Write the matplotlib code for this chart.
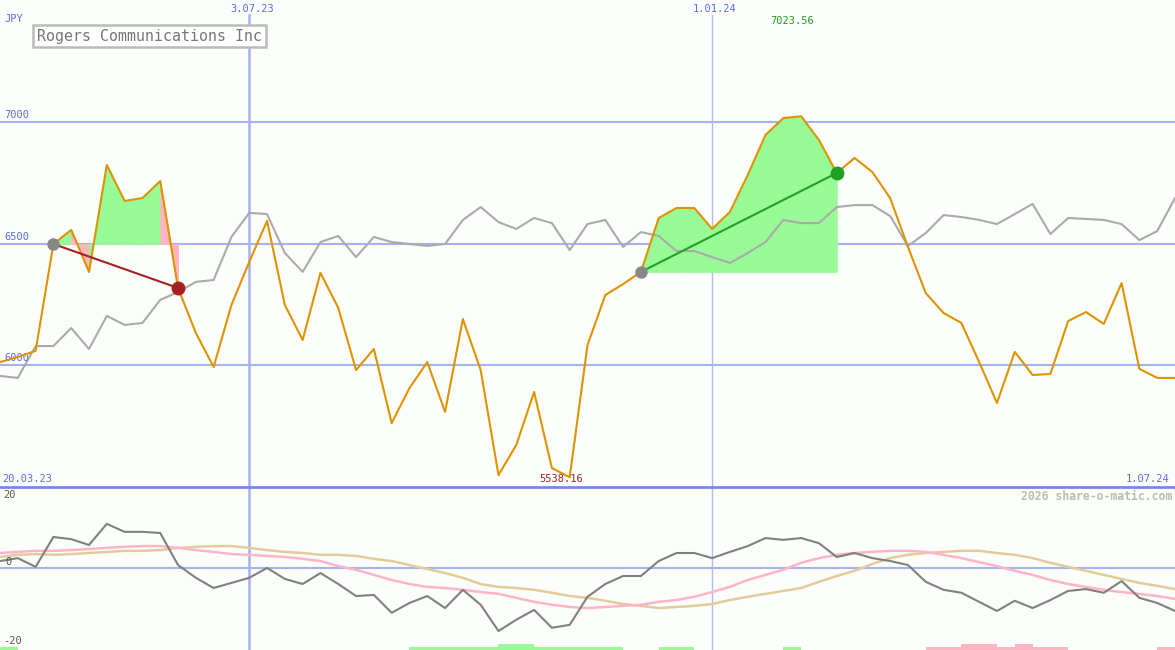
import matplotlib
matplotlib.use("Agg")
import matplotlib.pyplot as plt
import matplotlib.transforms as mtransforms

# weekly closes, JPY (index 0 = 20.03.23, index 66 = 1.07.24)
price = [6012, 6033, 6058, 6498, 6556, 6383, 6823, 6675, 6687, 6757,
         6317, 6132, 5992, 6247, 6424, 6593, 6247, 6103, 6379, 6235,
         5979, 6066, 5761, 5905, 6012, 5807, 6189, 5979, 5547, 5671,
         5889, 5576, 5538.16, 6082, 6288, 6333, 6383, 6605, 6646, 6646,
         6560, 6630, 6782, 6947, 7016, 7023.56, 6926, 6790, 6852, 6794,
         6687, 6486, 6296, 6214, 6173, 6012, 5844, 6054, 5959, 5963,
         6181, 6218, 6169, 6337, 5984, 5947, 5947]

# comparison line (grey)
compare = [5955, 5947, 6078, 6078, 6152, 6066, 6202, 6165, 6173, 6268,
           6300, 6342, 6350, 6527, 6626, 6621, 6461, 6383, 6506, 6531,
           6444, 6527, 6506, 6498, 6490, 6498, 6597, 6650, 6588, 6560,
           6605, 6584, 6473, 6580, 6597, 6486, 6547, 6531, 6469, 6469,
           6444, 6420, 6461, 6506, 6597, 6584, 6584, 6650, 6658, 6658,
           6613, 6490, 6543, 6617, 6609, 6597, 6580, 6621, 6663, 6539,
           6605, 6601, 6597, 6580, 6514, 6551, 6687]

# lower panel
momentum = [1.9, 2.7, 0.3, 8.5, 7.9, 6.3, 12.1, 9.9, 9.9, 9.6,
            0.8, -2.7, -5.5, -4.1, -2.7, 0.0, -3.0, -4.4, -1.4, -4.4,
            -7.7, -7.4, -12.3, -9.6, -7.7, -11.0, -6.0, -10.1, -17.3, -14.2,
            -11.5, -16.4, -15.6, -7.9, -4.4, -2.2, -2.2, 1.9, 4.1, 4.1,
            2.7, 4.4, 6.0, 8.2, 7.7, 8.2, 6.8, 3.0, 4.1, 2.7,
            1.9, 0.8, -3.8, -6.0, -6.8, -9.3, -11.8, -9.0, -11.0, -8.8,
            -6.3, -5.8, -6.8, -3.6, -8.2, -9.6, -11.8]

avg_fast = [4.1, 4.4, 4.7, 4.7, 4.9, 5.2, 5.5, 5.8, 6.0, 6.0,
            5.5, 4.9, 4.4, 3.8, 3.6, 3.3, 3.0, 2.5, 1.9, 0.5,
            -0.5, -1.9, -3.3, -4.4, -5.2, -5.5, -6.0, -6.6, -7.1, -8.2,
            -9.3, -10.1, -10.7, -11.0, -10.7, -10.4, -10.1, -9.3, -8.8, -7.9,
            -6.6, -5.2, -3.3, -1.9, -0.5, 1.4, 2.7, 3.6, 4.1, 4.4,
            4.7, 4.7, 4.4, 3.6, 2.7, 1.6, 0.5, -0.8, -1.9, -3.3,
            -4.4, -5.2, -6.0, -6.6, -7.1, -7.7, -8.5]

avg_slow = [3.0, 3.6, 3.8, 3.6, 3.8, 4.1, 4.4, 4.7, 4.7, 4.9,
            5.5, 5.8, 6.0, 6.0, 5.5, 4.9, 4.4, 4.1, 3.6, 3.6,
            3.3, 2.5, 1.9, 0.8, -0.3, -1.4, -2.7, -4.4, -5.2, -5.5,
            -6.0, -6.8, -7.7, -8.2, -9.0, -9.9, -10.4, -11.0, -10.7, -10.4,
            -9.9, -8.8, -7.9, -7.1, -6.3, -5.5, -3.8, -2.2, -0.8, 1.1,
            2.7, 3.6, 4.1, 4.4, 4.7, 4.7, 4.1, 3.6, 2.7, 1.4,
            0.3, -0.8, -1.9, -3.0, -4.1, -4.9, -5.8]

# signal strip per week (+ green, - pink)
signal = [1, 0, 0, 0, 0, 0, 0, 0, 0, 0, 0, 0, 0, 0, 0, 0, 0, 0, 0, 0, 0, 0, 0,
          1, 1, 1, 1, 1, 2, 2, 1, 1, 1, 1, 1, 0, 0, 1, 1, 0, 0, 0, 0, 0, 1,
          0, 0, 0, 0, 0, 0, 0, -1, -1, -2, -2, -1, -2, -1, -1, 0, 0, 0, 0, 0, -1]

trades = [(3, 10), (36, 47)]
levels = [7000, 6500, 6000]
date_idx = [14, 40]
date_labels = ["3.07.23", "1.01.24"]

bg = "#fcfefc"
grid_c = "#a4b2f2"
txt_blue = "#5a6cf0"
mono = "DejaVu Sans Mono"

fig = plt.figure(figsize=(11.75, 6.5), dpi=100, facecolor=bg)
ax = fig.add_axes([0, 163 / 650, 1, 487 / 650], facecolor=bg)
ax2 = fig.add_axes([0, 0, 1, 163 / 650], facecolor=bg)

n = len(price)
xs = list(range(n))

for a in (ax, ax2):
    a.set_xlim(0, n - 1)
    a.set_xticks([])
    a.set_yticks([])
    for s in a.spines.values():
        s.set_visible(False)
ax.set_ylim(5498, 7502)
ax2.set_ylim(-22.5, 22.2)
ax2.spines["top"].set_visible(True)
ax2.spines["top"].set_color("#7888ea")
ax2.spines["top"].set_linewidth(2)

# grid
for lv in levels:
    ax.axhline(lv, color=grid_c, lw=1.5, zorder=1)
ax.axvline(date_idx[0], ymax=1 - 15 / 487, color=grid_c, lw=1.8, zorder=1)
ax.axvline(date_idx[1], ymax=1 - 15 / 487, color="#b0bbee", lw=1, zorder=1)
ax2.axvline(date_idx[0], color=grid_c, lw=1.8, zorder=1)
ax2.axvline(date_idx[1], color="#b0bbee", lw=1, zorder=1)
ax2.axhline(0, color=grid_c, lw=1.5, zorder=1)

# trade fills, coloured per segment
for a, b in trades:
    entry = price[a]
    for k in range(a, b):
        col = "#98fb98" if price[k + 1] >= entry else "#ffb6c1"
        ax.fill_between([k, k + 1], [price[k], price[k + 1]], entry,
                        facecolor=col, edgecolor=col, lw=0.6, zorder=2)

ax.plot(xs, compare, color="#aaaaaa", lw=1.5, zorder=3)
ax.plot(xs, price, color="#dd9400", lw=1.5, zorder=4)

for a, b in trades:
    win = price[b] > price[a]
    lc = "#22a022" if win else "#a52020"
    ax.plot([a, b], [price[a], price[b]], color=lc, lw=1.5, zorder=5)
    ax.plot(a, price[a], "o", ms=8, color="#888888", zorder=6)
    ax.plot(b, price[b], "o", ms=9, color=lc, zorder=6)

# labels
ax.text(0.004, 1 - 19 / 487, "JPY", transform=ax.transAxes, color=txt_blue,
        fontsize=7.5, family=mono, va="center")
for lv in levels:
    ax.text(0.25, lv + 8, str(lv), color=txt_blue, fontsize=7.5,
            family=mono, va="bottom")
top = mtransforms.blended_transform_factory(ax.transData, ax.transAxes)
for i, lab in zip(date_idx, date_labels):
    ax.text(i + 0.15, 1 - 9 / 487, lab, transform=top, color=txt_blue,
            fontsize=7.5, family=mono, ha="center", va="center")
ax.text(0.1, 8 / 487, "20.03.23", transform=top, color=txt_blue,
        fontsize=7.5, family=mono, ha="left", va="center")
ax.text(n - 1.3, 8 / 487, "1.07.24", transform=top, color=txt_blue,
        fontsize=7.5, family=mono, ha="right", va="center")

imax = price.index(max(price))
imin = price.index(min(price))
ax.text(imax - 0.5, 1 - 21 / 487, f"{max(price):.2f}", transform=top,
        color="#229922", fontsize=7.5, family=mono, ha="center", va="center")
ax.text(imin - 0.45, 8 / 487, f"{min(price):.2f}", transform=top,
        color="#992222", fontsize=7.5, family=mono, ha="center", va="center")

ax.text(37 / 1175, 1 - 36 / 487, "Rogers Communications Inc",
        transform=ax.transAxes, color="#777777", fontsize=10.8, family=mono,
        va="center", ha="left",
        bbox=dict(boxstyle="square,pad=0.25", fc="white", ec="#bbbbbb", lw=1.8))

fig.text(1172 / 1175, 1 - 496 / 650, "2026 share-o-matic.com", color="#bbbbbb",
         fontsize=8.3, family=mono, weight="bold", ha="right", va="center")

# lower panel
ax2.plot(xs, avg_slow, color="#e2cc9a", lw=1.8, zorder=2)
ax2.plot(xs, avg_fast, color="#ffb4c8", lw=1.8, zorder=2)
ax2.plot(xs, momentum, color="#808080", lw=1.5, zorder=3)

for k, s in enumerate(signal):
    if s:
        ax2.bar(k + 0.5, abs(s) * 0.82, width=1, bottom=-22.5,
                color="#98fb98" if s > 0 else "#ffb6c1", lw=0, zorder=2)

for v, lab in [(20, "20"), (-20, "-20")]:
    ax2.text(0.2, v, lab, color="#555555", fontsize=7.5, family=mono,
             va="center")
ax2.text(0.3, 0.2, "0", color="#555555", fontsize=7.5, family=mono,
         va="bottom")

fig.savefig("out.png", dpi=100, facecolor=bg)
